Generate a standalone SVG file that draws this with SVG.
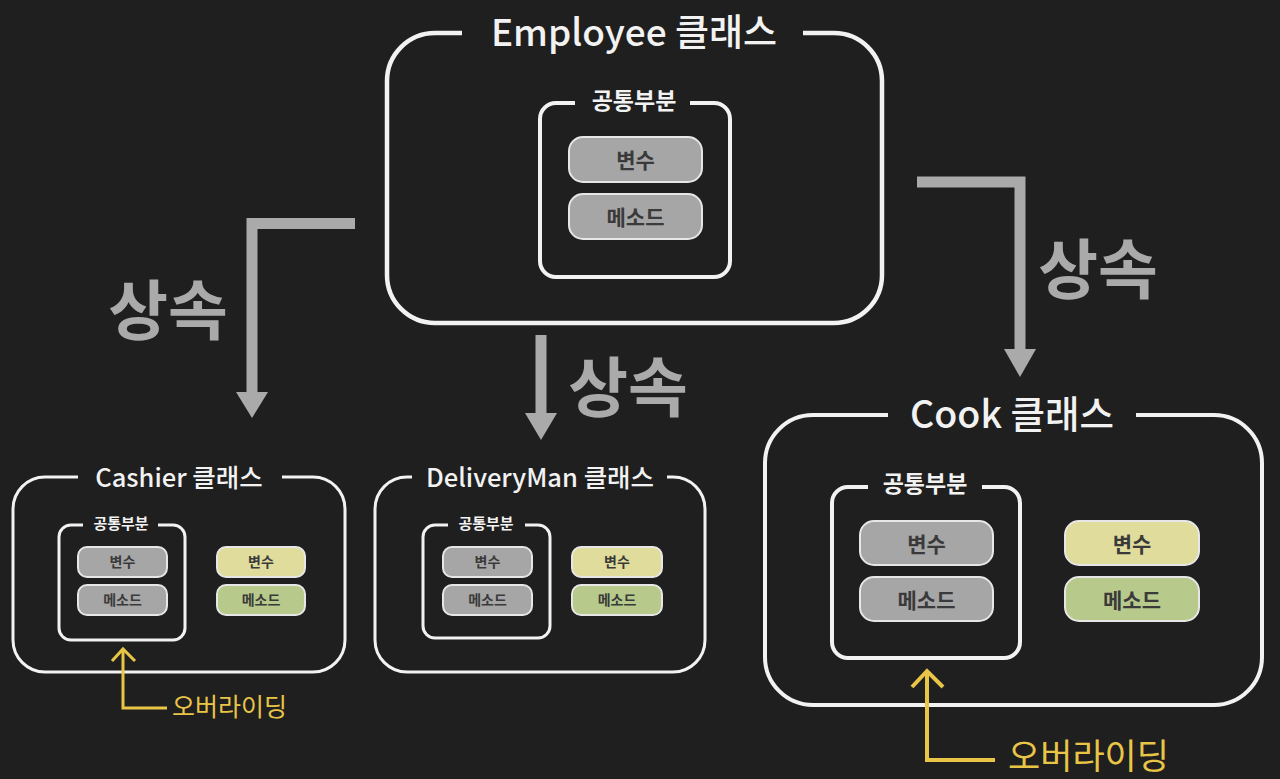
<svg xmlns="http://www.w3.org/2000/svg" width="1280" height="779" viewBox="0 0 1280 779">
<style>
text{font-family:"Noto Sans CJK KR","Noto Sans",sans-serif;}
.frame{fill:none;stroke:#f2f2f2;stroke-linecap:butt;}
.title{fill:#f2f2f2;font-weight:500;text-anchor:middle;}
.sub{fill:#f2f2f2;font-weight:700;text-anchor:middle;}
.pill{stroke:#e6e6e6;stroke-width:2;}
.gray{fill:#a6a6a6;}
.yel{fill:#e0dd9c;}
.grn{fill:#b7ca8b;}
.pt{fill:#3a3a3a;font-weight:700;text-anchor:middle;}
.inh{fill:none;stroke:#aaaaaa;stroke-width:11;stroke-linejoin:miter;}
.inhh{fill:#aaaaaa;}
.inht{fill:#aaaaaa;font-weight:700;font-size:65px;text-anchor:middle;}
.ov{fill:none;stroke:#e8c547;}
.ovt{fill:#e8c547;font-weight:400;}
</style>
<rect width="1280" height="779" fill="#1f1f1f"/>

<g id="employee">
<path class="frame" stroke-width="4.5" d="M803,33 H834 A48,48 0 0 1 882,81 V275 A48,48 0 0 1 834,323 H435 A48,48 0 0 1 387,275 V81 A48,48 0 0 1 435,33 H462"/>
<text class="title" x="634" y="46" font-size="37">Employee 클래스</text>
<path class="frame" stroke-width="4" d="M690,103 H714 A16,16 0 0 1 730,119 V261 A16,16 0 0 1 714,277 H556 A16,16 0 0 1 540,261 V119 A16,16 0 0 1 556,103 H575"/>
<text class="sub" x="634" y="109" font-size="23">공통부분</text>
<rect class="pill gray" x="569" y="137" width="133" height="45" rx="14"/>
<text class="pt" x="635.5" y="167.5" font-size="21">변수</text>
<rect class="pill gray" x="569" y="194" width="133" height="45" rx="14"/>
<text class="pt" x="635.5" y="224.5" font-size="21">메소드</text>
</g>

<g id="cashier">
<path class="frame" stroke-width="3" d="M282,477 H313 A32,32 0 0 1 345,509 V640 A32,32 0 0 1 313,672 H45 A32,32 0 0 1 13,640 V509 A32,32 0 0 1 45,477 H78"/>
<text class="title" x="179" y="487" font-size="25.5">Cashier 클래스</text>
<path class="frame" stroke-width="3" d="M158,525 H173 A12,12 0 0 1 185,537 V628 A12,12 0 0 1 173,640 H71 A12,12 0 0 1 59,628 V537 A12,12 0 0 1 71,525 H83"/>
<text class="sub" x="121" y="529" font-size="15">공통부분</text>
<rect class="pill gray" x="78" y="547" width="89" height="30" rx="9"/>
<text class="pt" x="122.5" y="567" font-size="14">변수</text>
<rect class="pill gray" x="78" y="585" width="89" height="30" rx="9"/>
<text class="pt" x="122.5" y="605" font-size="14">메소드</text>
<rect class="pill yel" x="217" y="547" width="88" height="30" rx="9"/>
<text class="pt" x="261" y="567" font-size="14">변수</text>
<rect class="pill grn" x="217" y="585" width="88" height="30" rx="9"/>
<text class="pt" x="261" y="605" font-size="14">메소드</text>
</g>

<g id="deliveryman">
<path class="frame" stroke-width="3" d="M667,477 H673 A32,32 0 0 1 705,509 V640 A32,32 0 0 1 673,672 H407 A32,32 0 0 1 375,640 V509 A32,32 0 0 1 407,477 H412"/>
<text class="title" x="540" y="487" font-size="25.5">DeliveryMan 클래스</text>
<path class="frame" stroke-width="3" d="M525,525 H538 A12,12 0 0 1 550,537 V626 A12,12 0 0 1 538,638 H435 A12,12 0 0 1 423,626 V537 A12,12 0 0 1 435,525 H448"/>
<text class="sub" x="486" y="529" font-size="15">공통부분</text>
<rect class="pill gray" x="443" y="547" width="89" height="30" rx="9"/>
<text class="pt" x="487.5" y="567" font-size="14">변수</text>
<rect class="pill gray" x="443" y="585" width="89" height="30" rx="9"/>
<text class="pt" x="487.5" y="605" font-size="14">메소드</text>
<rect class="pill yel" x="572" y="547" width="90" height="30" rx="9"/>
<text class="pt" x="617" y="567" font-size="14">변수</text>
<rect class="pill grn" x="572" y="585" width="90" height="30" rx="9"/>
<text class="pt" x="617" y="605" font-size="14">메소드</text>
</g>

<g id="cook">
<path class="frame" stroke-width="4" d="M1136,415 H1214 A48,48 0 0 1 1262,463 V657 A48,48 0 0 1 1214,705 H813 A48,48 0 0 1 765,657 V463 A48,48 0 0 1 813,415 H888"/>
<text class="title" x="1012" y="428" font-size="37.5">Cook 클래스</text>
<path class="frame" stroke-width="4" d="M982,487 H1004 A16,16 0 0 1 1020,503 V642 A16,16 0 0 1 1004,658 H848 A16,16 0 0 1 832,642 V503 A16,16 0 0 1 848,487 H868"/>
<text class="sub" x="925" y="492" font-size="23">공통부분</text>
<rect class="pill gray" x="860" y="521" width="133" height="44" rx="14"/>
<text class="pt" x="926.5" y="551.5" font-size="21">변수</text>
<rect class="pill gray" x="860" y="577" width="133" height="44" rx="14"/>
<text class="pt" x="926.5" y="607.5" font-size="21">메소드</text>
<rect class="pill yel" x="1065" y="521" width="134" height="44" rx="14"/>
<text class="pt" x="1132" y="551.5" font-size="21">변수</text>
<rect class="pill grn" x="1065" y="577" width="134" height="44" rx="14"/>
<text class="pt" x="1132" y="607.5" font-size="21">메소드</text>
</g>

<g id="connectors">
<path class="inh" d="M355,223.5 H252 V395"/>
<polygon class="inhh" points="236,392 268,392 252,418"/>
<text class="inht" x="168" y="334">상속</text>
<path class="inh" d="M541,335 V415"/>
<polygon class="inhh" points="525,413 557,413 541,440"/>
<text class="inht" x="628" y="411">상속</text>
<path class="inh" d="M917,182 H1020 V352"/>
<polygon class="inhh" points="1004,349 1036,349 1020,377"/>
<text class="inht" x="1098" y="293">상속</text>
<path class="ov" stroke-width="3" d="M167,708 H123 V650"/>
<path class="ov" stroke-width="3" d="M112,661 L123,649 L135,661"/>
<text class="ovt" x="172" y="716" font-size="25">오버라이딩</text>
<path class="ov" stroke-width="4" d="M995,760 H927 V672"/>
<path class="ov" stroke-width="4" d="M912,687 L927,671 L943,687"/>
<text class="ovt" x="1008" y="769" font-size="35">오버라이딩</text>
</g>
</svg>
